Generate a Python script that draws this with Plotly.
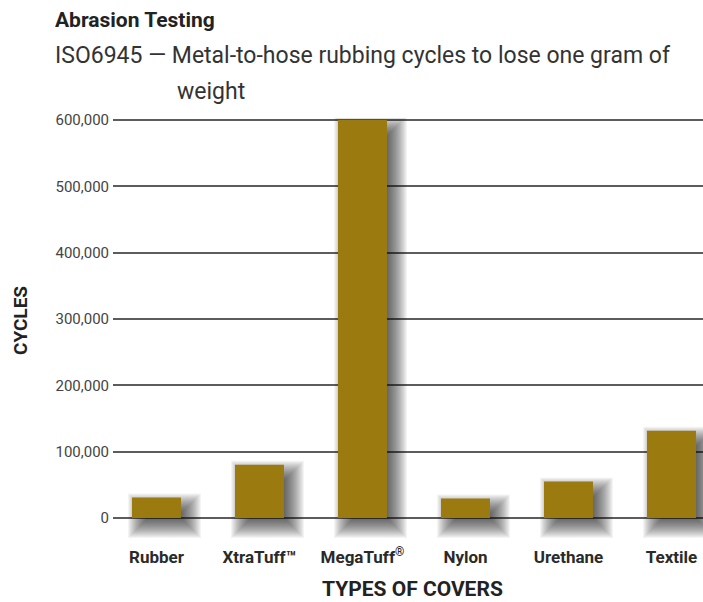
import plotly.graph_objects as go

categories = ["Rubber", "XtraTuff™", "MegaTuff<sup>®</sup>", "Nylon", "Urethane", "Textile"]
cycles = [31000, 80500, 600000, 29500, 55000, 131500]
y_ticks = [0, 100000, 200000, 300000, 400000, 500000, 600000]
y_tick_labels = ["0", "100,000", "200,000", "300,000", "400,000", "500,000", "600,000"]

BAR_COLOR = "#9B7A0F"
FONT = "Roboto, 'Open Sans', sans-serif"

# pixel-to-data helpers (plot: 1 category = 103 px, 1 px = 1500 cycles)
PX_X = 1 / 103.0
PX_Y = 1500.0
BAR_W = 49 * PX_X
DX, DY = 8, 8

fig = go.Figure()

# soft drop shadows built from layered translucent bars
for e in range(-7, 13):
    offs, widths, bases, heights = [], [], [], []
    for v in cycles:
        x0 = -BAR_W / 2 + (DX - e) * PX_X
        x1 = BAR_W / 2 + (DX + e) * PX_X
        top = v - (DY - e) * PX_Y
        bottom = -(DY + e) * PX_Y
        offs.append(x0)
        widths.append(x1 - x0)
        bases.append(bottom)
        heights.append(top - bottom)
    fig.add_trace(go.Bar(
        x=categories, y=heights, base=bases, offset=offs, width=widths,
        marker=dict(color="rgba(30,30,30,0.048)", line=dict(width=0)),
        hoverinfo="skip", showlegend=False,
    ))

fig.add_trace(go.Bar(
    x=categories, y=cycles, width=BAR_W,
    marker=dict(color=BAR_COLOR, line=dict(width=0)),
    showlegend=False,
))

fig.update_layout(
    width=703, height=602,
    margin=dict(l=113, r=0, t=118, b=62),
    paper_bgcolor="white", plot_bgcolor="white",
    barmode="overlay",
    font=dict(family=FONT, color="#333"),
    xaxis=dict(
        range=[-0.422, 5.306], showgrid=False, zeroline=False, showline=False,
        ticks="", tickfont=dict(size=17, color="#2a2a2a", family=FONT, weight="bold"),
        ticklabelstandoff=5,
    ),
    yaxis=dict(
        range=[-33000, 603000], tickvals=y_ticks, ticktext=y_tick_labels,
        showgrid=True, gridcolor="#5c5c5c", gridwidth=1.6,
        zeroline=False, showline=False, ticks="",
        tickfont=dict(size=15, color="#444"), ticklabelstandoff=3,
    ),
    annotations=[
        dict(text="<b>Abrasion Testing</b>", x=53, y=20,
             showarrow=False, font=dict(size=21, color="#222")),
        dict(text="ISO6945 — Metal-to-hose rubbing cycles to lose one gram of",
             x=53, y=56, showarrow=False, font=dict(size=23, color="#333")),
        dict(text="weight", x=175, y=91, showarrow=False, font=dict(size=23, color="#333")),
        dict(text="<b>CYCLES</b>", x=20, y=320, textangle=-90, showarrow=False,
             font=dict(size=19, color="#222")),
        dict(text="<b>TYPES OF COVERS</b>", x=412, y=589, showarrow=False,
             font=dict(size=21, color="#222")),
    ],
)

# position annotations in pixel space
W, H = 703, 602
L, R, T, B = 113, 0, 118, 62
pw, ph = W - L - R, H - T - B
new_ann = []
for a in fig.layout.annotations:
    px, py = a.x, a.y
    a.xref = "paper"; a.yref = "paper"
    a.x = (px - L) / pw
    a.y = 1 - (py - T) / ph
    a.xanchor = "center" if a.text in ("<b>CYCLES</b>", "<b>TYPES OF COVERS</b>") else "left"
    a.yanchor = "middle"
    new_ann.append(a)
fig.layout.annotations = new_ann

fig.write_html("out.html", config={"displayModeBar": False})

# remove the default page margin so the figure sits at the window origin
with open("out.html", "r", encoding="utf-8") as f:
    html = f.read()
html = html.replace("<head>", "<head><style>html,body{margin:0;padding:0;overflow:hidden;}</style>", 1)
with open("out.html", "w", encoding="utf-8") as f:
    f.write(html)
